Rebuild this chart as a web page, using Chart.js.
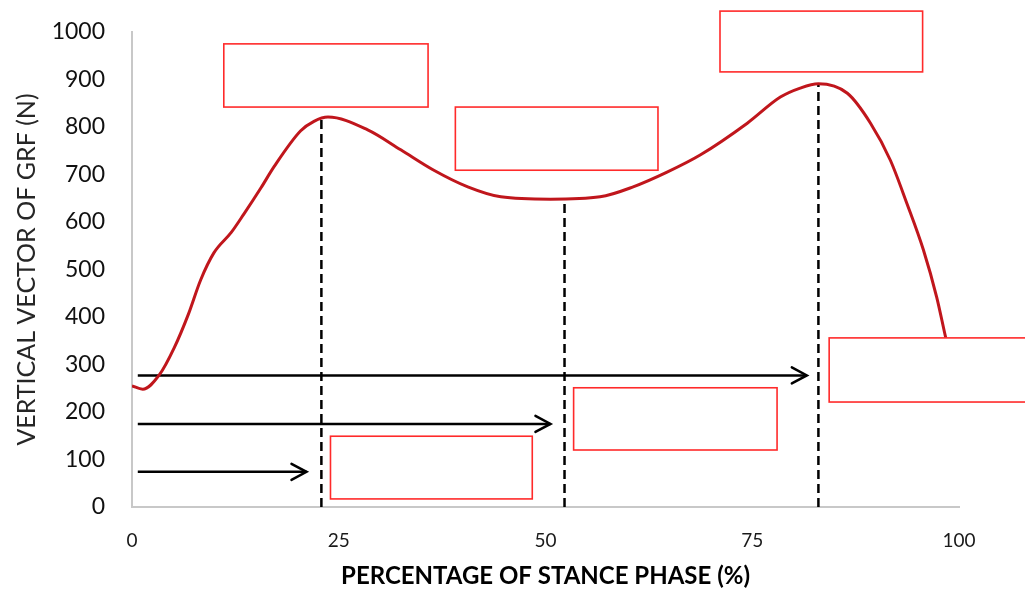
<!DOCTYPE html>
<html>
<head>
<meta charset="utf-8">
<script src="https://cdn.jsdelivr.net/npm/chart.js"></script>
<style>
  html, body { margin: 0; padding: 0; background: #fff; }
  #wrap { width: 1025px; height: 591px; }
</style>
</head>
<body>
<div id="wrap"><canvas id="grfChart"></canvas></div>
<script>
// vertical GRF curve over stance phase
const stancePct = [0, 1.3, 3.3, 5.1, 6.8, 8.3, 9.9, 12, 13.5, 15.6, 17.2, 20.4, 22, 23.7, 28.5, 32.5, 36.5, 40.6, 44.6, 50.6, 56.6, 60.6, 64.7, 68.7, 74.4, 78.4, 80.8, 83, 86.5, 89.3, 91.7, 93.7, 95.7, 97.3, 98.4, 100];
const grfNewton = [255, 248, 278, 335, 405, 478, 535, 578, 616, 672, 717, 792, 812, 821, 794, 752, 709, 674, 653, 648, 653, 674, 705, 741, 808, 863, 882, 891, 871, 808, 730, 639, 541, 442, 356, 240];

// dashed markers at the peaks / valley
const markerX = [22.9, 52.3, 83.0];
const markerTop = [821, 638, 891];

// horizontal arrows
const arrowY = [74, 175, 277];
const arrowStart = 0.7;
const arrowEnd = [21.1, 50.6, 81.6];

// empty label boxes (data units)
const boxLeft = [11.1, 39.1, 71.1, 84.3, 53.4, 24.0];
const boxRight = [35.8, 63.6, 95.6, 108.5, 78.0, 48.4];
const boxTop = [975, 842, 1044, 356, 251, 149];
const boxBottom = [842, 709, 916, 221, 120, 17];

const xTicks = [0, 25, 50, 75, 100];

const datasets = [{
  data: stancePct.map((x, i) => ({ x: x, y: grfNewton[i] })),
  borderColor: '#C0161C',
  borderWidth: 3,
  pointRadius: 0,
  cubicInterpolationMode: 'monotone',
  fill: false
}];

markerX.forEach((x, i) => {
  datasets.push({
    data: [{ x: x, y: 0 }, { x: x, y: markerTop[i] }],
    borderColor: '#000',
    borderWidth: 2.5,
    borderDash: [9, 5],
    pointRadius: 0
  });
});

arrowY.forEach((y, i) => {
  datasets.push({
    data: [{ x: arrowStart, y: y }, { x: arrowEnd[i], y: y }],
    borderColor: '#000',
    borderWidth: 2.5,
    pointRadius: 0
  });
});

// arrow heads and boxes on top of the lines
const overlayPlugin = {
  id: 'overlay',
  afterDatasetsDraw(chart) {
    const ctx = chart.ctx;
    const xs = chart.scales.x;
    const ys = chart.scales.y;
    ctx.save();

    ctx.strokeStyle = '#000';
    ctx.lineWidth = 2.5;
    ctx.lineCap = 'round';
    ctx.lineJoin = 'miter';
    arrowY.forEach((y, i) => {
      const px = xs.getPixelForValue(arrowEnd[i]);
      const py = ys.getPixelForValue(y);
      ctx.beginPath();
      ctx.moveTo(px - 15, py - 8);
      ctx.lineTo(px, py);
      ctx.lineTo(px - 15, py + 8);
      ctx.stroke();
    });

    ctx.strokeStyle = '#FF2A2A';
    ctx.lineWidth = 1.6;
    ctx.fillStyle = '#fff';
    boxLeft.forEach((l, i) => {
      const x0 = xs.getPixelForValue(l);
      const x1 = xs.getPixelForValue(boxRight[i]);
      const y0 = ys.getPixelForValue(boxTop[i]);
      const y1 = ys.getPixelForValue(boxBottom[i]);
      ctx.fillRect(x0, y0, x1 - x0, y1 - y0);
      ctx.strokeRect(x0, y0, x1 - x0, y1 - y0);
    });

    ctx.restore();
  }
};

new Chart(document.getElementById('grfChart'), {
  type: 'line',
  data: { datasets: datasets },
  options: {
    responsive: true,
    maintainAspectRatio: false,
    animation: false,
    layout: { padding: { top: 32, right: 66, left: 0, bottom: 0 } },
    plugins: { legend: { display: false }, tooltip: { enabled: false } },
    scales: {
      x: {
        type: 'linear',
        min: 0,
        max: 100,
        afterBuildTicks: scale => { scale.ticks = xTicks.map(v => ({ value: v })); },
        afterFit: scale => { scale.height = 84; },
        grid: { display: false, drawTicks: false },
        border: { display: true, color: '#C8C8C8', width: 2 },
        ticks: { color: '#1a1a1a', font: { family: 'Lato', size: 19 }, padding: 22, maxRotation: 0 },
        title: {
          display: true,
          text: 'PERCENTAGE OF STANCE PHASE (%)',
          color: '#000',
          font: { family: 'Lato', size: 24, weight: 'bold' },
          padding: { top: 0, bottom: 0 }
        }
      },
      y: {
        min: 0,
        max: 1000,
        afterFit: scale => {
          scale.width = 132;
          scale.paddingTop = 0;
          scale.paddingBottom = 0;
        },
        grid: { display: false, drawTicks: false },
        border: { display: true, color: '#C8C8C8', width: 2 },
        ticks: { stepSize: 100, color: '#111', font: { family: 'Lato', size: 23 }, padding: 27, callback: v => String(v) },
        title: {
          display: true,
          text: 'VERTICAL VECTOR OF GRF (N)',
          color: '#262626',
          font: { family: 'Lato', size: 25 },
          padding: { top: 12, bottom: 0 }
        }
      }
    }
  },
  plugins: [overlayPlugin]
});
</script>
</body>
</html>
